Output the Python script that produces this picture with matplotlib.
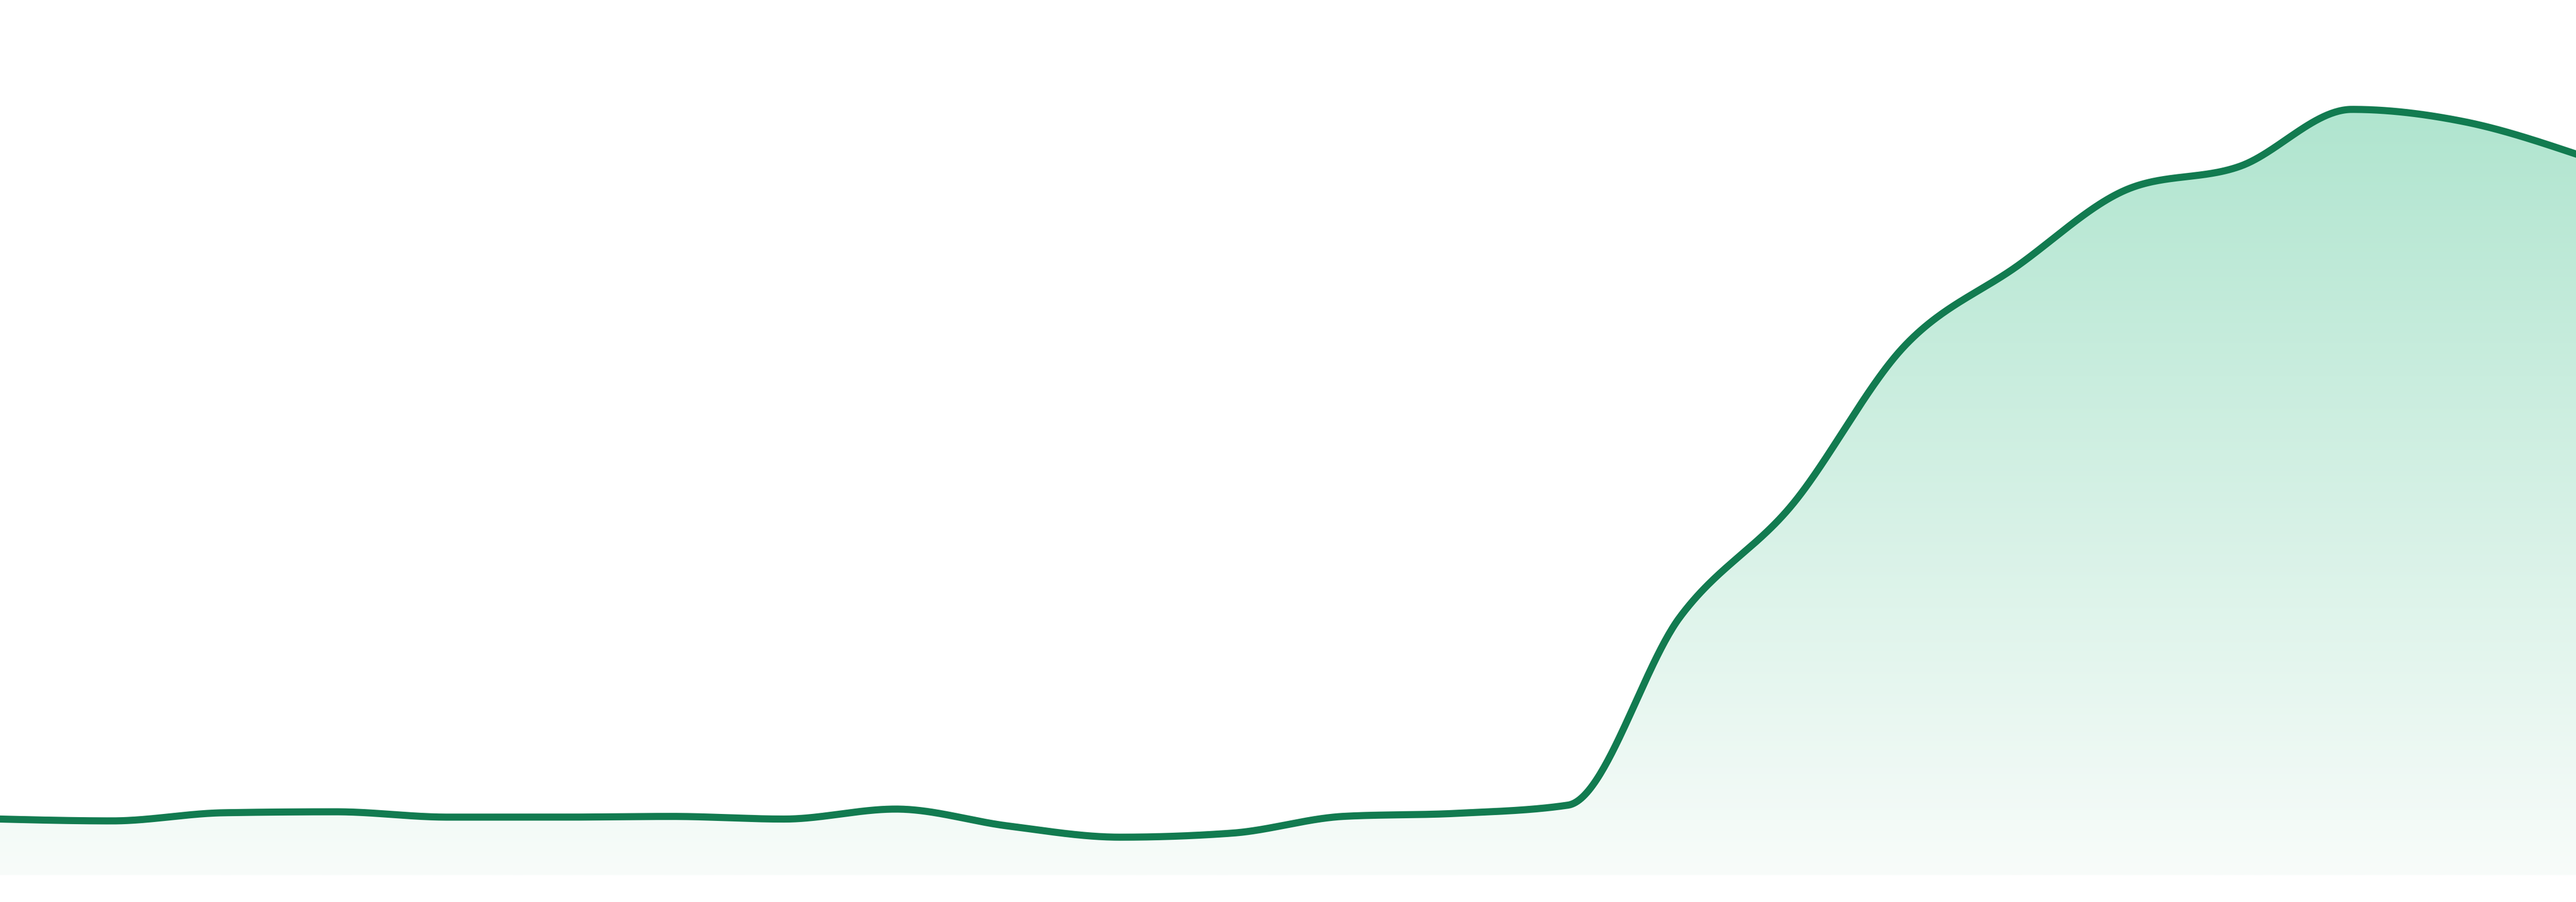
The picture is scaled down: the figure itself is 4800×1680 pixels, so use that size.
import numpy as np
import matplotlib
matplotlib.use("Agg")
import matplotlib.pyplot as plt
from matplotlib.path import Path
from matplotlib.patches import PathPatch

# ---- data (24 evenly spaced points) ----
x_index = list(range(24))
values = [6.41, 6.20, 7.13, 7.24, 6.63, 6.63, 6.71, 6.41, 7.55, 5.62, 4.34, 4.80,
          6.72, 7.06, 8.00, 29.5, 42.3, 60.4, 69.5, 78.4, 81.0, 87.5, 86.1, 82.4]

line_color = "#127b50"
fill_top = (176/255, 229/255, 207/255)
fill_bottom = (248/255, 252/255, 250/255)


def monotone_x(xs, ys, n=60):
    xs = np.asarray(xs, float)
    ys = np.asarray(ys, float)
    m = len(xs)
    h = np.diff(xs)
    s = np.diff(ys) / h
    t = np.zeros(m)
    for i in range(1, m - 1):
        h0, h1 = h[i - 1], h[i]
        s0, s1 = s[i - 1], s[i]
        p = (s0 * h1 + s1 * h0) / (h0 + h1)
        t[i] = (np.sign(s0) + np.sign(s1)) * min(abs(s0), abs(s1), 0.5 * abs(p))
    t[0] = (3 * s[0] - t[1]) / 2
    t[-1] = (3 * s[-1] - t[-2]) / 2
    px, py = [], []
    u = np.linspace(0, 1, n)
    for i in range(m - 1):
        dx = (xs[i + 1] - xs[i]) / 3
        P0 = (xs[i], ys[i])
        P1 = (xs[i] + dx, ys[i] + dx * t[i])
        P2 = (xs[i + 1] - dx, ys[i + 1] - dx * t[i + 1])
        P3 = (xs[i + 1], ys[i + 1])
        bx = (1-u)**3*P0[0] + 3*(1-u)**2*u*P1[0] + 3*(1-u)*u**2*P2[0] + u**3*P3[0]
        by = (1-u)**3*P0[1] + 3*(1-u)**2*u*P1[1] + 3*(1-u)*u**2*P2[1] + u**3*P3[1]
        if i > 0:
            bx, by = bx[1:], by[1:]
        px.append(bx)
        py.append(by)
    return np.concatenate(px), np.concatenate(py)


fig = plt.figure(figsize=(48, 16.8), dpi=100)
fig.patch.set_facecolor("white")
ax = fig.add_axes([0, 50/1680, 1, 1630/1680])
ax.set_xlim(0, 23)
ax.set_ylim(0, 100)
ax.axis("off")

cx, cy = monotone_x(x_index, values)

# gradient fill under curve
top = max(values)
grad = np.linspace(0, 1, 256)[:, None]
img = np.zeros((256, 1, 3))
for k in range(3):
    img[:, 0, k] = fill_top[k] * (1 - grad[:, 0]) + fill_bottom[k] * grad[:, 0]
im = ax.imshow(img, extent=[0, 23, 0, top], aspect="auto", origin="upper",
               interpolation="bilinear", zorder=1)
vx = np.concatenate([cx, [23, 0, cx[0]]])
vy = np.concatenate([cy, [0, 0, cy[0]]])
codes = [Path.MOVETO] + [Path.LINETO] * (len(vx) - 2) + [Path.CLOSEPOLY]
clip = PathPatch(Path(np.column_stack([vx, vy]), codes), facecolor="none", edgecolor="none")
ax.add_patch(clip)
im.set_clip_path(clip)

ax.plot(cx, cy, color=line_color, lw=9.5, solid_joinstyle="round", zorder=3)

fig.savefig("out.png", dpi=100, facecolor="white")
